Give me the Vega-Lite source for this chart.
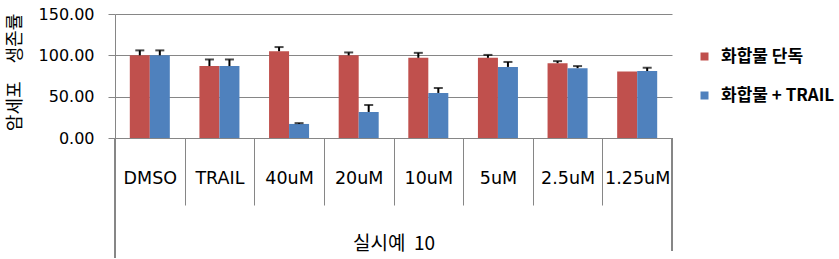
{
  "$schema": "https://vega.github.io/schema/vega-lite/v6.json",
  "width": 557,
  "height": 124,
  "autosize": {"type": "none"},
  "padding": {"left": 115, "top": 14, "right": 167, "bottom": 121},
  "background": "white",
  "config": {
    "view": {"stroke": null},
    "font": "Noto Sans CJK KR"
  },
  "data": {
    "values": [
      {"cat": "DMSO", "series": "화합물 단독", "value": 100, "upper": 106},
      {"cat": "DMSO", "series": "화합물 + TRAIL", "value": 100, "upper": 106},
      {"cat": "TRAIL", "series": "화합물 단독", "value": 87, "upper": 95},
      {"cat": "TRAIL", "series": "화합물 + TRAIL", "value": 87, "upper": 95},
      {"cat": "40uM", "series": "화합물 단독", "value": 105, "upper": 110},
      {"cat": "40uM", "series": "화합물 + TRAIL", "value": 17, "upper": 18},
      {"cat": "20uM", "series": "화합물 단독", "value": 100, "upper": 103.5},
      {"cat": "20uM", "series": "화합물 + TRAIL", "value": 31.5, "upper": 40},
      {"cat": "10uM", "series": "화합물 단독", "value": 97, "upper": 103},
      {"cat": "10uM", "series": "화합물 + TRAIL", "value": 54.5, "upper": 60.5},
      {"cat": "5uM", "series": "화합물 단독", "value": 97, "upper": 100.5},
      {"cat": "5uM", "series": "화합물 + TRAIL", "value": 86, "upper": 92},
      {"cat": "2.5uM", "series": "화합물 단독", "value": 90.5, "upper": 93},
      {"cat": "2.5uM", "series": "화합물 + TRAIL", "value": 84.5, "upper": 87},
      {"cat": "1.25uM", "series": "화합물 단독", "value": 80.5, "upper": 80.5},
      {"cat": "1.25uM", "series": "화합물 + TRAIL", "value": 81, "upper": 85}
    ]
  },
  "layer": [
    {
      "mark": {"type": "bar"},
      "encoding": {
        "x": {
          "field": "cat",
          "type": "nominal",
          "sort": ["DMSO", "TRAIL", "40uM", "20uM", "10uM", "5uM", "2.5uM", "1.25uM"],
          "scale": {"paddingInner": 0, "paddingOuter": 0},
          "axis": {
            "title": "실시예\u00a0\u00a010",
            "titleFont": "Noto Sans CJK KR",
            "titleFontSize": 19,
            "titleFontWeight": "normal",
            "titleColor": "black",
            "titleY": 105,
            "titleBaseline": "middle",
            "labelAngle": 0,
            "labelFontSize": 17.5,
            "labelColor": "black",
            "labelFont": "DejaVu Sans",
            "labelBaseline": "middle",
            "labelPadding": -27,
            "labelLimit": 100,
            "tickBand": "extent",
            "tickSize": 67,
            "tickColor": "#868686",
            "domainColor": "#868686",
            "grid": false
          }
        },
        "xOffset": {
          "field": "series",
          "type": "nominal",
          "sort": ["화합물 단독", "화합물 + TRAIL"],
          "scale": {"paddingInner": 0, "paddingOuter": 0.74}
        },
        "y": {
          "field": "value",
          "type": "quantitative",
          "scale": {"domain": [0, 150], "nice": false},
          "axis": {
            "title": "암세포\u3000생존률",
            "titleFont": "Noto Sans CJK KR",
            "titleFontSize": 18,
            "titleFontWeight": "normal",
            "titleColor": "black",
            "titleX": -100,
            "titleY": 58,
            "titleAngle": -90,
            "titleAlign": "center",
            "titleBaseline": "middle",
            "values": [0, 50, 100, 150],
            "format": ".2f",
            "labelFont": "DejaVu Sans",
            "labelFontSize": 16,
            "labelColor": "black",
            "labelPadding": 14,
            "tickSize": 7,
            "tickColor": "#868686",
            "domainColor": "#868686",
            "gridColor": "#868686",
            "grid": true
          }
        },
        "color": {
          "field": "series",
          "type": "nominal",
          "sort": ["화합물 단독", "화합물 + TRAIL"],
          "scale": {"domain": ["화합물 단독", "화합물 + TRAIL"], "range": ["#C0504D", "#4F81BD"]},
          "legend": {
            "title": null,
            "orient": "none",
            "legendX": 581,
            "legendY": 34,
            "symbolType": "square",
            "symbolSize": 64,
            "symbolStrokeWidth": 0,
            "labelFontSize": 17,
            "labelFontWeight": "bold",
            "labelColor": "black",
            "labelFont": "Noto Sans CJK KR",
            "labelOffset": 8,
            "rowPadding": 21,
            "labelLimit": 300
          }
        }
      }
    },
    {
      "transform": [{"filter": "datum.upper > datum.value"}],
      "mark": {"type": "rule", "color": "black", "strokeWidth": 2},
      "encoding": {
        "x": {"field": "cat", "type": "nominal", "sort": ["DMSO", "TRAIL", "40uM", "20uM", "10uM", "5uM", "2.5uM", "1.25uM"]},
        "xOffset": {"field": "series", "type": "nominal", "sort": ["화합물 단독", "화합물 + TRAIL"]},
        "y": {"field": "value", "type": "quantitative"},
        "y2": {"field": "upper"}
      }
    },
    {
      "transform": [{"filter": "datum.upper > datum.value"}],
      "mark": {"type": "tick", "color": "black", "orient": "horizontal", "size": 9, "thickness": 2},
      "encoding": {
        "x": {"field": "cat", "type": "nominal", "sort": ["DMSO", "TRAIL", "40uM", "20uM", "10uM", "5uM", "2.5uM", "1.25uM"]},
        "xOffset": {"field": "series", "type": "nominal", "sort": ["화합물 단독", "화합물 + TRAIL"]},
        "y": {"field": "upper", "type": "quantitative"}
      }
    },
    {
      "mark": {"type": "rule", "color": "#868686", "strokeWidth": 1},
      "encoding": {
        "x": {"datum": "DMSO", "type": "nominal", "bandPosition": 0},
        "y": {"datum": 0, "type": "quantitative"},
        "y2": {"datum": -145}
      }
    },
    {
      "mark": {"type": "rule", "color": "#868686", "strokeWidth": 1},
      "encoding": {
        "x": {"datum": "1.25uM", "type": "nominal", "bandPosition": 1},
        "y": {"datum": 0, "type": "quantitative"},
        "y2": {"datum": -136}
      }
    }
  ]
}
